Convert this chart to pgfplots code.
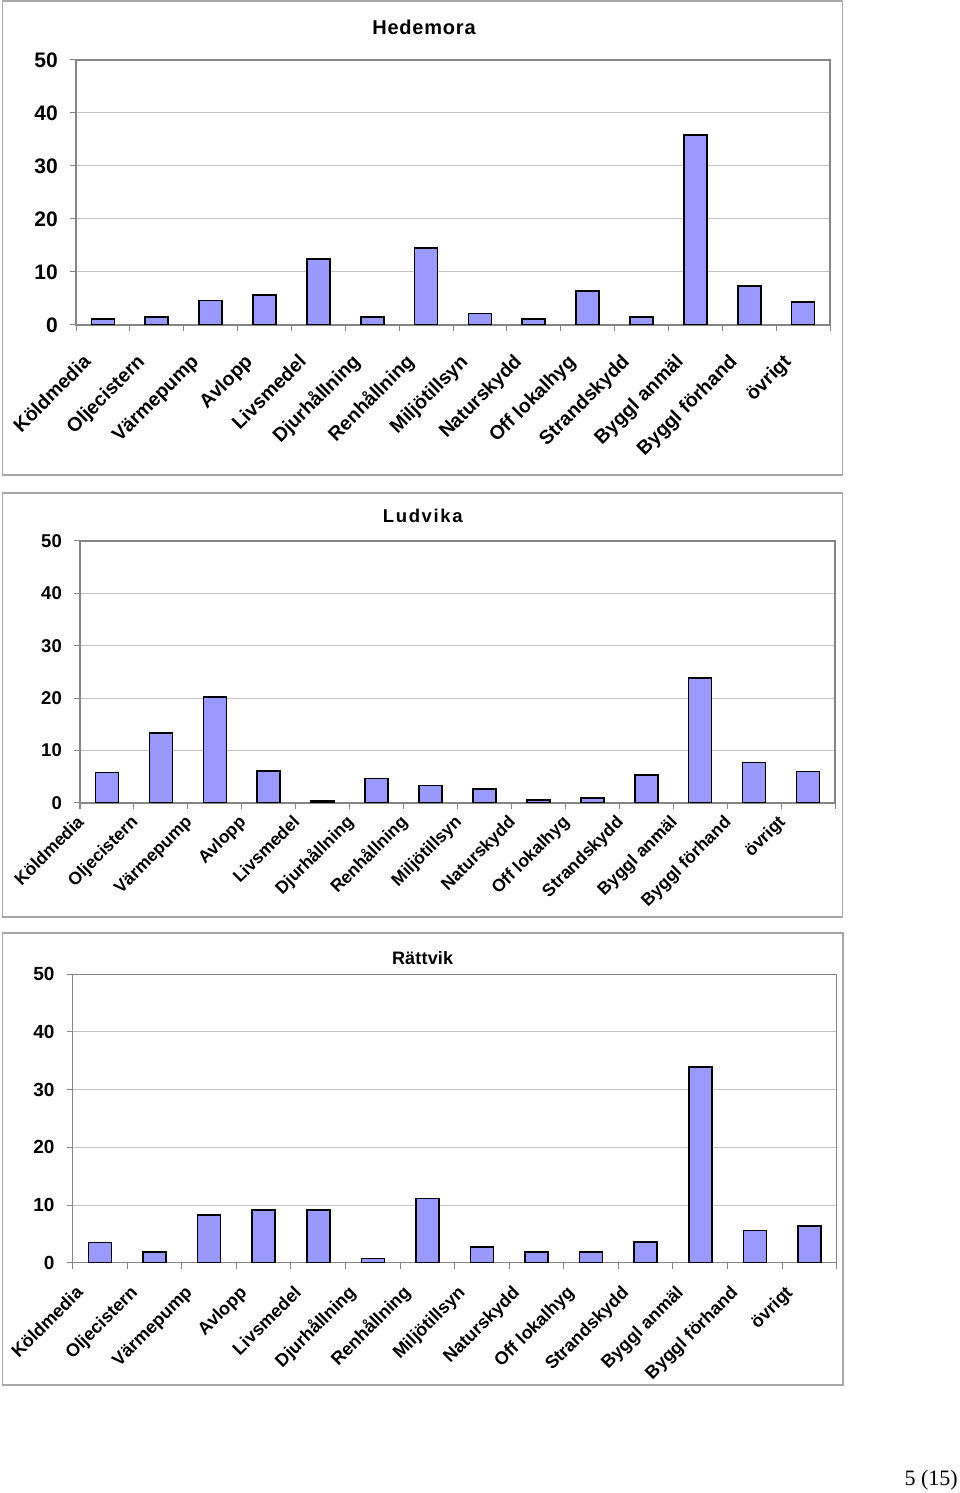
\documentclass[border=0pt]{standalone}
\usepackage{fontspec}
\setmainfont{Liberation Sans}
\newfontfamily\seriffont{Liberation Serif}
\usepackage{pgfplots}
\pgfplotsset{compat=1.18}
\definecolor{barblue}{HTML}{9999FF}
\definecolor{axgray}{HTML}{868686}
\definecolor{grgray}{HTML}{C4C4C4}
\definecolor{boxgray}{HTML}{A8A8A8}

\pgfplotsset{
  panel/.style={
    scale only axis, anchor=south west,
    ybar, bar width=23pt,
    xmin=-0.5, xmax=13.5, ymin=0, ymax=50,
    ytick={0,10,20,30,40,50},
    xtick={-0.5,0.5,...,13.5}, xticklabels={},
    tick align=outside, xtick pos=bottom, ytick pos=left,
    major tick length=6pt,
    tick style={draw=axgray, line width=1pt},
    axis line style={draw=axgray, line width=1.3pt},
    ymajorgrids, grid style={draw=grgray, line width=1pt},
    /pgf/number format/assume math mode=true,
    extra x ticks={0,1,2,3,4,5,6,7,8,9,10,11,12,13},
    extra x tick labels={Köldmedia,Oljecistern,Värmepump,Avlopp,Livsmedel,Djurhållning,Renhållning,Miljötillsyn,Naturskydd,Off lokalhyg,Strandskydd,Byggl anmäl,Byggl förhand,övrigt},
  },
  ylab/.style={yticklabel style={font=\bfseries\fontsize{#1}{#1}\selectfont, inner sep=0pt, xshift=-12pt}},
  catlab/.style n args={3}{extra x tick style={major tick length=0pt, tick style={draw=none},
      xticklabel style={font=\bfseries\fontsize{#1}{#1}\selectfont, inner sep=0pt, anchor=base east, xshift=#2, yshift=#3, rotate=45}}},
  ttl/.style n args={4}{title style={font=\bfseries\fontsize{#1}{#1}\selectfont\addfontfeature{LetterSpace=#4}, anchor=base, at={(#2,1)}, yshift=#3}},
  barsty/.style={fill=barblue, draw=black, line width=1.6pt},
}

\begin{document}
\begin{tikzpicture}
\path[use as bounding box] (0pt,0pt) rectangle (960pt,1493pt);
\draw[boxgray, line width=1.5pt] (2.5pt,1018pt) rectangle (842.5pt,1492pt);
\draw[boxgray, line width=1.5pt] (2.5pt,576pt) rectangle (842.5pt,1000pt);
\draw[boxgray, line width=1.5pt] (2.5pt,108pt) rectangle (843pt,560pt);

\begin{axis}[panel, at={(76pt,1168pt)}, width=754pt, height=265pt,
  title={Hedemora}, ttl={20}{0.4615}{19.7pt}{4}, ylab={21}, catlab={19.5}{-11pt}{-38pt}]
\addplot[barsty] coordinates {(0,1.1) (1,1.45) (2,4.6) (3,5.7) (4,12.4) (5,1.45) (6,14.5) (7,2.2) (8,1.1) (9,6.4) (10,1.45) (11,35.9) (12,7.4) (13,4.3)};
\end{axis}

\begin{axis}[panel, at={(80pt,690pt)}, width=755pt, height=262pt,
  title={Ludvika}, ttl={18.5}{0.454}{12.7pt}{9}, ylab={18.5}, catlab={17.5}{-22pt}{-20pt}]
\addplot[barsty] coordinates {(0,5.85) (1,13.3) (2,20.2) (3,6.1) (4,0.4) (5,4.7) (6,3.3) (7,2.7) (8,0.6) (9,0.95) (10,5.3) (11,23.8) (12,7.75) (13,6.0)};
\end{axis}

\begin{axis}[panel, at={(72.7pt,230.3pt)}, width=764pt, height=288.4pt,
  title={Rättvik}, ttl={18}{0.458}{3.3pt}{1}, ylab={19}, catlab={18}{-16pt}{-31pt}]
\addplot[barsty] coordinates {(0,3.5) (1,1.9) (2,8.3) (3,9.1) (4,9.1) (5,0.75) (6,11.1) (7,2.7) (8,1.9) (9,1.9) (10,3.6) (11,33.9) (12,5.55) (13,6.4)};
\end{axis}

\node[anchor=base east, inner sep=0pt, font=\seriffont\fontsize{22}{22}\selectfont] at (958pt,7pt) {5 (15)};
\end{tikzpicture}
\end{document}
